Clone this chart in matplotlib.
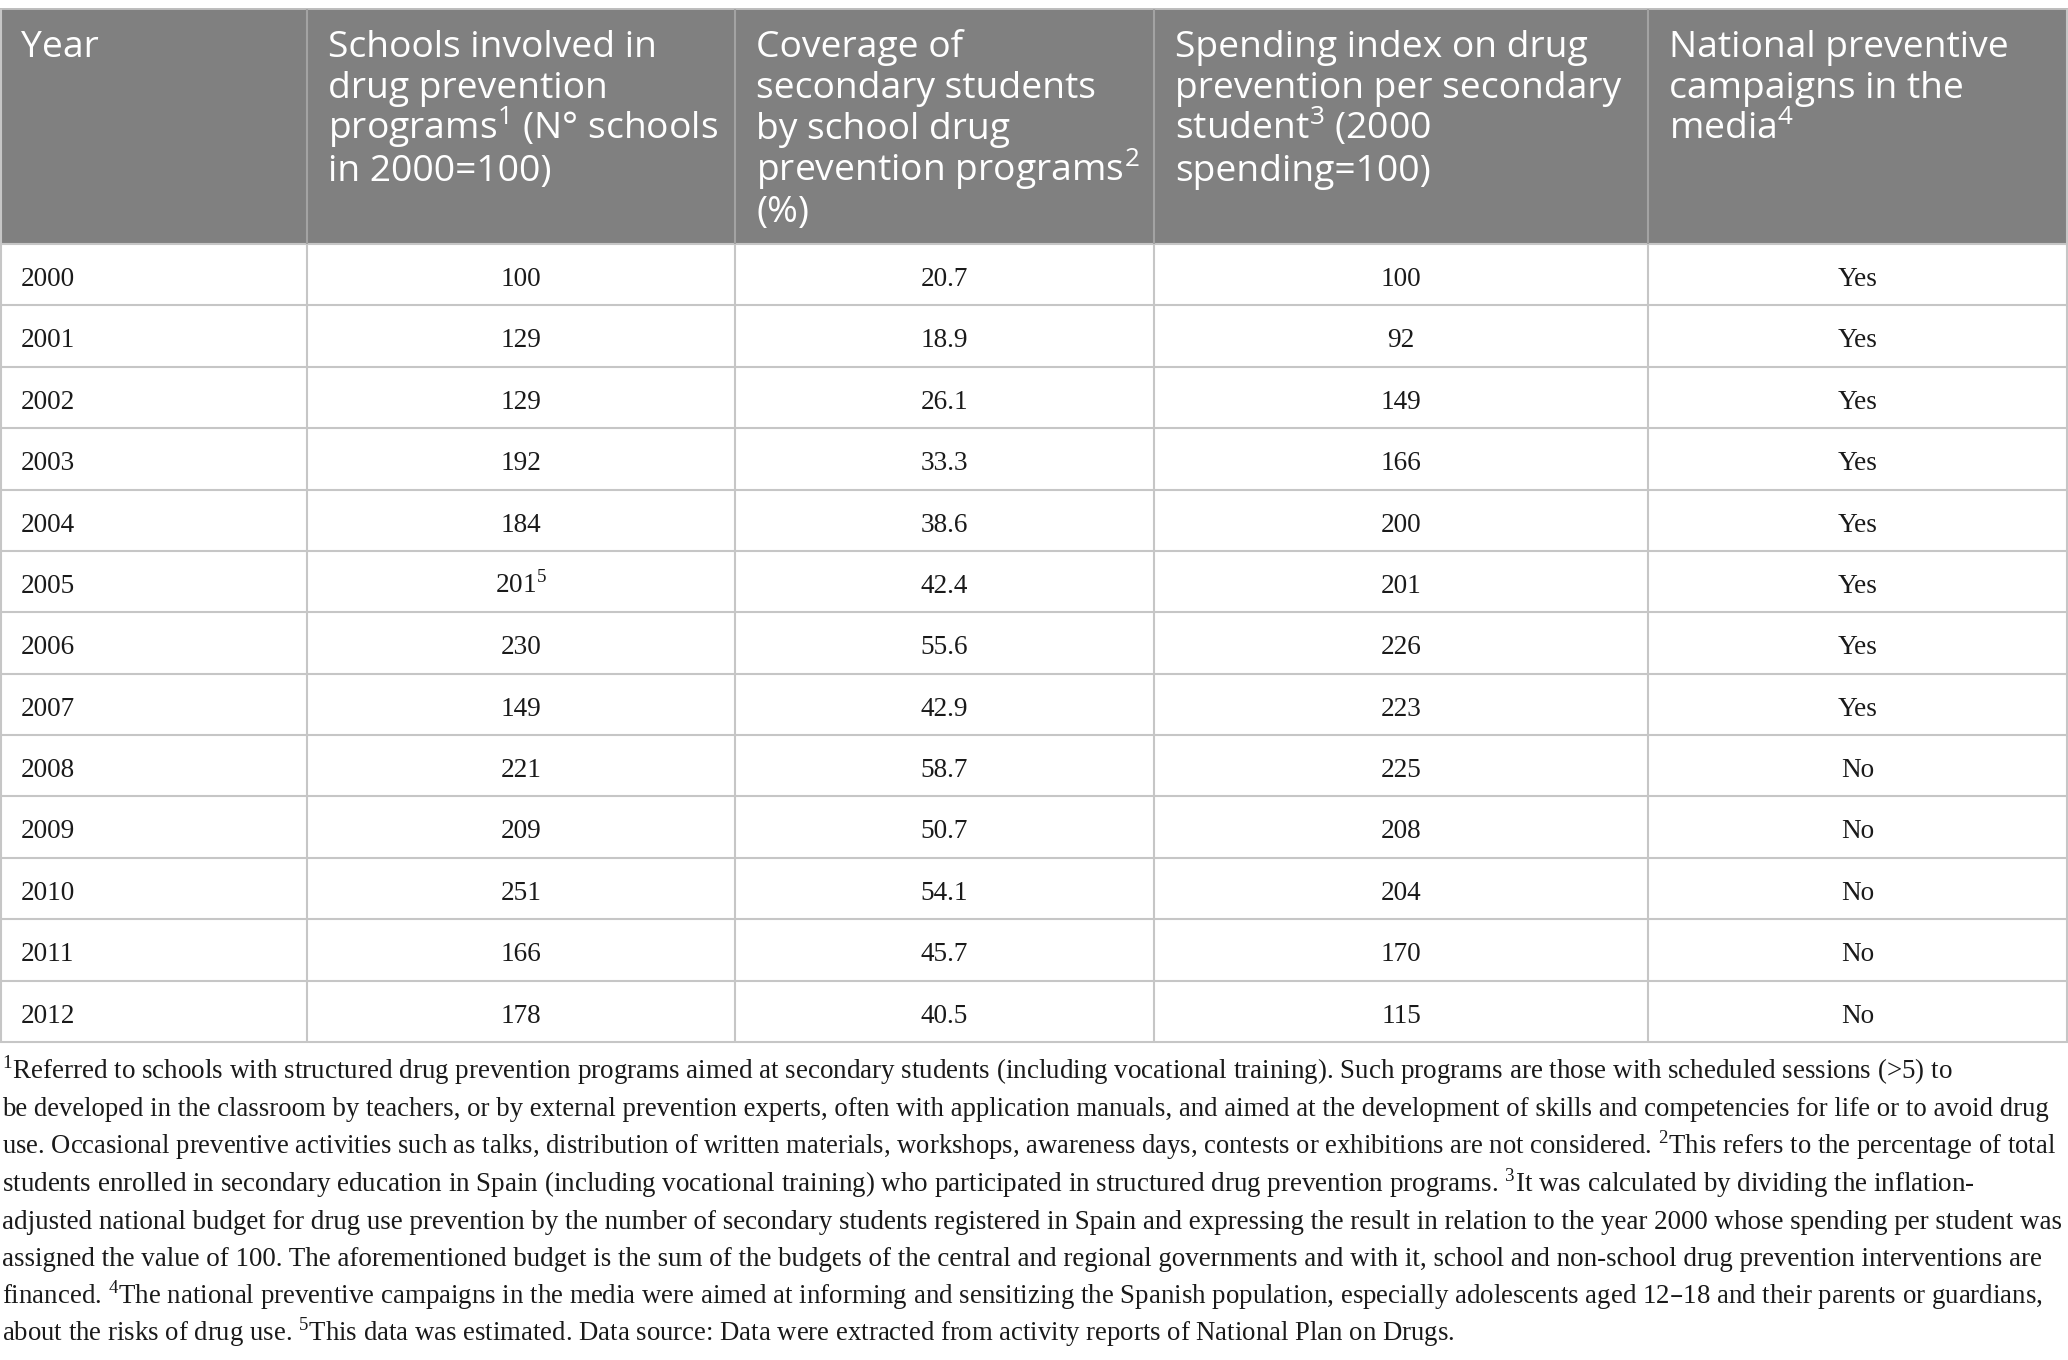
import matplotlib
matplotlib.use('Agg')
import matplotlib.pyplot as plt
from matplotlib.patches import Rectangle

# ---------------- data ----------------
years = [2000, 2001, 2002, 2003, 2004, 2005, 2006, 2007, 2008, 2009, 2010, 2011, 2012]
schools_index = [100, 129, 129, 192, 184, 201, 230, 149, 221, 209, 251, 166, 178]
schools_note = {2005: '5'}
coverage_pct = [20.7, 18.9, 26.1, 33.3, 38.6, 42.4, 55.6, 42.9, 58.7, 50.7, 54.1, 45.7, 40.5]
spending_index = [100, 92, 149, 166, 200, 201, 226, 223, 225, 208, 204, 170, 115]
media_campaigns = ['Yes', 'Yes', 'Yes', 'Yes', 'Yes', 'Yes', 'Yes', 'Yes', 'No', 'No', 'No', 'No', 'No']

def sup(s):
    return r'$^{\mathregular{' + s + '}}$'

header_lines = [
    ['Year'],
    ['Schools involved in', 'drug prevention', 'programs' + sup('1') + ' (N° schools', 'in 2000=100)'],
    ['Coverage of', 'secondary students', 'by school drug', 'prevention programs' + sup('2'), '(%)'],
    ['Spending index on drug', 'prevention per secondary', 'student' + sup('3') + ' (2000', 'spending=100)'],
    ['National preventive', 'campaigns in the', 'media' + sup('4')],
]

footnote_lines = [
    sup('1') + 'Referred to schools with structured drug prevention programs aimed at secondary students (including vocational training). Such programs are those with scheduled sessions (>5) to',
    'be developed in the classroom by teachers, or by external prevention experts, often with application manuals, and aimed at the development of skills and competencies for life or to avoid drug',
    'use. Occasional preventive activities such as talks, distribution of written materials, workshops, awareness days, contests or exhibitions are not considered. ' + sup('2') + 'This refers to the percentage of total',
    'students enrolled in secondary education in Spain (including vocational training) who participated in structured drug prevention programs. ' + sup('3') + 'It was calculated by dividing the inflation-',
    'adjusted national budget for drug use prevention by the number of secondary students registered in Spain and expressing the result in relation to the year 2000 whose spending per student was',
    'assigned the value of 100. The aforementioned budget is the sum of the budgets of the central and regional governments and with it, school and non-school drug prevention interventions are',
    'financed. ' + sup('4') + 'The national preventive campaigns in the media were aimed at informing and sensitizing the Spanish population, especially adolescents aged 12\u201318 and their parents or guardians,',
    'about the risks of drug use. ' + sup('5') + 'This data was estimated. Data source: Data were extracted from activity reports of National Plan on Drugs.',
]

# ---------------- layout ----------------
W, H = 2068, 1360
col_edges = [0, 307, 735, 1154, 1648, 2068]
head_top, head_bot = 9, 244
table_bot = 1042
n_rows = len(years)
row_h = (table_bot - head_bot) / n_rows
foot_right = [1952, 2053, 2059, 1977, 2064, 2042, 2040, 1455]

HEAD_BG = '#808080'
HEAD_DIV = '#a3a3a3'
GRID = '#c6c6c6'
SANS = ['Open Sans', 'DejaVu Sans']
SERIF = ['Liberation Serif', 'DejaVu Serif']

fig = plt.figure(figsize=(W / 100, H / 100), dpi=100)
ax = fig.add_axes([0, 0, 1, 1])
ax.set_xlim(0, W)
ax.set_ylim(H, 0)
ax.axis('off')
renderer = fig.canvas.get_renderer()


def fit_size(s, family, target, base=20.0):
    t = ax.text(0, 0, s, fontsize=base, family=family)
    w = t.get_window_extent(renderer).width
    t.remove()
    return base * target / w


head_fs = (fit_size('Schools involved in', SANS, 333) +
           fit_size('programs' + sup('1') + ' (N° schools', SANS, 384) +
           fit_size('Spending index on drug', SANS, 413)) / 3
body_fs = fit_size('2000', SERIF, 54)
foot_sizes = [fit_size(l, SERIF, r - 2) for l, r in zip(footnote_lines, foot_right)]
foot_med = sorted(foot_sizes)[len(foot_sizes) // 2]
foot_sizes = [min(max(s, foot_med * 0.96), foot_med * 1.04) for s in foot_sizes]

# header background
ax.add_patch(Rectangle((0, head_top), W, head_bot - head_top, facecolor=HEAD_BG, edgecolor='none', zorder=1))
ax.plot([0, W], [head_top, head_top], color='#bdbdbd', lw=1.4, zorder=3, solid_capstyle='butt')

# grid lines
for i in range(1, n_rows + 1):
    y = head_bot + i * row_h
    ax.plot([0, W], [y, y], color=GRID, lw=1.5, zorder=3, solid_capstyle='butt')
ax.plot([0, W], [head_bot, head_bot], color=GRID, lw=1.5, zorder=3, solid_capstyle='butt')
for x in col_edges[1:-1]:
    ax.plot([x, x], [head_top, head_bot], color=HEAD_DIV, lw=1.5, zorder=3, solid_capstyle='butt')
    ax.plot([x, x], [head_bot, table_bot], color=GRID, lw=1.5, zorder=3, solid_capstyle='butt')
for x in (1, W - 1):
    ax.plot([x, x], [head_top, table_bot], color=GRID, lw=1.5, zorder=3, solid_capstyle='butt')

# header text
for c, lines in enumerate(header_lines):
    x0 = col_edges[c] + 21
    for j, line in enumerate(lines):
        ax.text(x0, 57 + 41.2 * j, line, fontsize=head_fs, family=SANS, color='white',
                ha='left', va='baseline', zorder=4)

# body text
for r, yr in enumerate(years):
    yb = head_bot + r * row_h + 42
    cells = [
        str(yr),
        str(schools_index[r]) + (sup(schools_note[yr]) if yr in schools_note else ''),
        f'{coverage_pct[r]:.1f}',
        str(spending_index[r]),
        media_campaigns[r],
    ]
    for c, s in enumerate(cells):
        if c == 0:
            ax.text(col_edges[0] + 21, yb, s, fontsize=body_fs, family=SERIF, color='#1a1a1a',
                    ha='left', va='baseline', zorder=4)
        else:
            xc = (col_edges[c] + col_edges[c + 1]) / 2
            ax.text(xc, yb, s, fontsize=body_fs, family=SERIF, color='#1a1a1a',
                    ha='center', va='baseline', zorder=4)

# footnotes
for i, line in enumerate(footnote_lines):
    ax.text(2, 1079 + 37.4 * i, line, fontsize=foot_sizes[i], family=SERIF, color='#1a1a1a',
            ha='left', va='baseline', zorder=4)

fig.savefig('out.png', dpi=100, facecolor='white')
